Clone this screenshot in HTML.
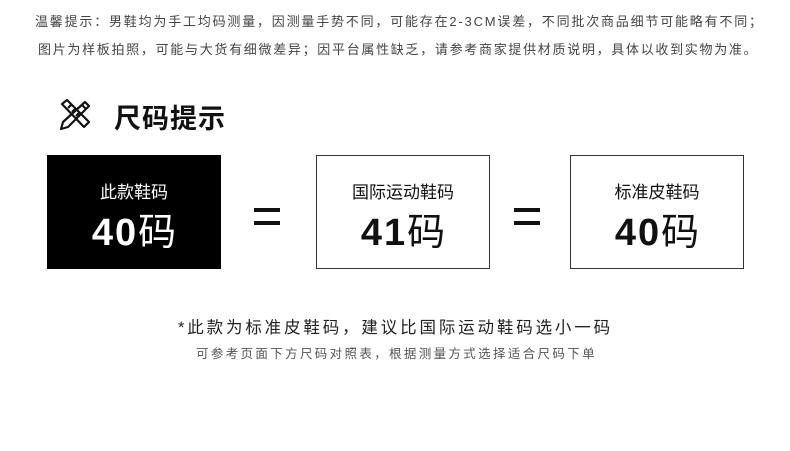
<!DOCTYPE html>
<html><head><meta charset="utf-8"><style>
body{margin:0;width:790px;height:451px;background:#fff;position:relative;overflow:hidden;font-family:"Liberation Sans","Noto Sans CJK SC",sans-serif;}
.t{position:absolute;white-space:nowrap;}
.h{font-size:13px;color:#444;}
.box{position:absolute;top:155px;width:172px;height:112px;border:1px solid #333;text-align:center;}
.box .l{position:absolute;top:22px;left:0;right:0;font-size:17px;}
.box .n{position:absolute;top:52px;left:0;right:0;font-size:38px;line-height:50px;}
.box .n b{font-family:"Liberation Sans",sans-serif;font-weight:bold;font-size:38px;letter-spacing:2px;}
.eq{position:absolute;top:208px;width:26px;height:17px;}
.eq:before,.eq:after{content:"";position:absolute;left:0;width:26px;height:4px;background:#111;}
.eq:before{top:0}.eq:after{top:13px}
</style></head><body>
<div class="t h" style="left:35px;top:11px;letter-spacing:1.8px">温馨提示：男鞋均为手工均码测量，因测量手势不同，可能存在2-3CM误差，不同批次商品细节可能略有不同；</div>
<div class="t h" style="left:38px;top:39px;letter-spacing:1.7px">图片为样板拍照，可能与大货有细微差异；因平台属性缺乏，请参考商家提供材质说明，具体以收到实物为准。</div>
<svg style="position:absolute;left:58px;top:99px" width="34" height="32" viewBox="0 0 34 32" fill="none" stroke="#111" stroke-width="2.2" stroke-linejoin="round">
<path d="M4 5 L9 1 L31 23 L26 28 Z"/><path d="M13 6 L10 9 M17 10 L14 13 M21 14 L18 17"/>
<path d="M27 3 L31 7 L10 28 L3 30 L5 23 Z"/><path d="M24 6 L28 10"/>
</svg>
<div class="t" style="left:114px;top:97px;font-size:27px;font-weight:bold;color:#111;letter-spacing:1px">尺码提示</div>
<div class="box" style="left:47px;background:#000;color:#fff;border-color:#000"><div class="l">此款鞋码</div><div class="n"><b>40</b>码</div></div>
<div class="eq" style="left:254px"></div>
<div class="box" style="left:316px;color:#111"><div class="l">国际运动鞋码</div><div class="n"><b>41</b>码</div></div>
<div class="eq" style="left:514px"></div>
<div class="box" style="left:570px;color:#111"><div class="l">标准皮鞋码</div><div class="n"><b>40</b>码</div></div>
<div class="t" style="left:178px;top:314px;font-size:16.5px;color:#222;letter-spacing:2.85px">*此款为标准皮鞋码，建议比国际运动鞋码选小一码</div>
<div class="t" style="left:196px;top:343px;font-size:12.5px;color:#555;letter-spacing:2.35px">可参考页面下方尺码对照表，根据测量方式选择适合尺码下单</div>
</body></html>
